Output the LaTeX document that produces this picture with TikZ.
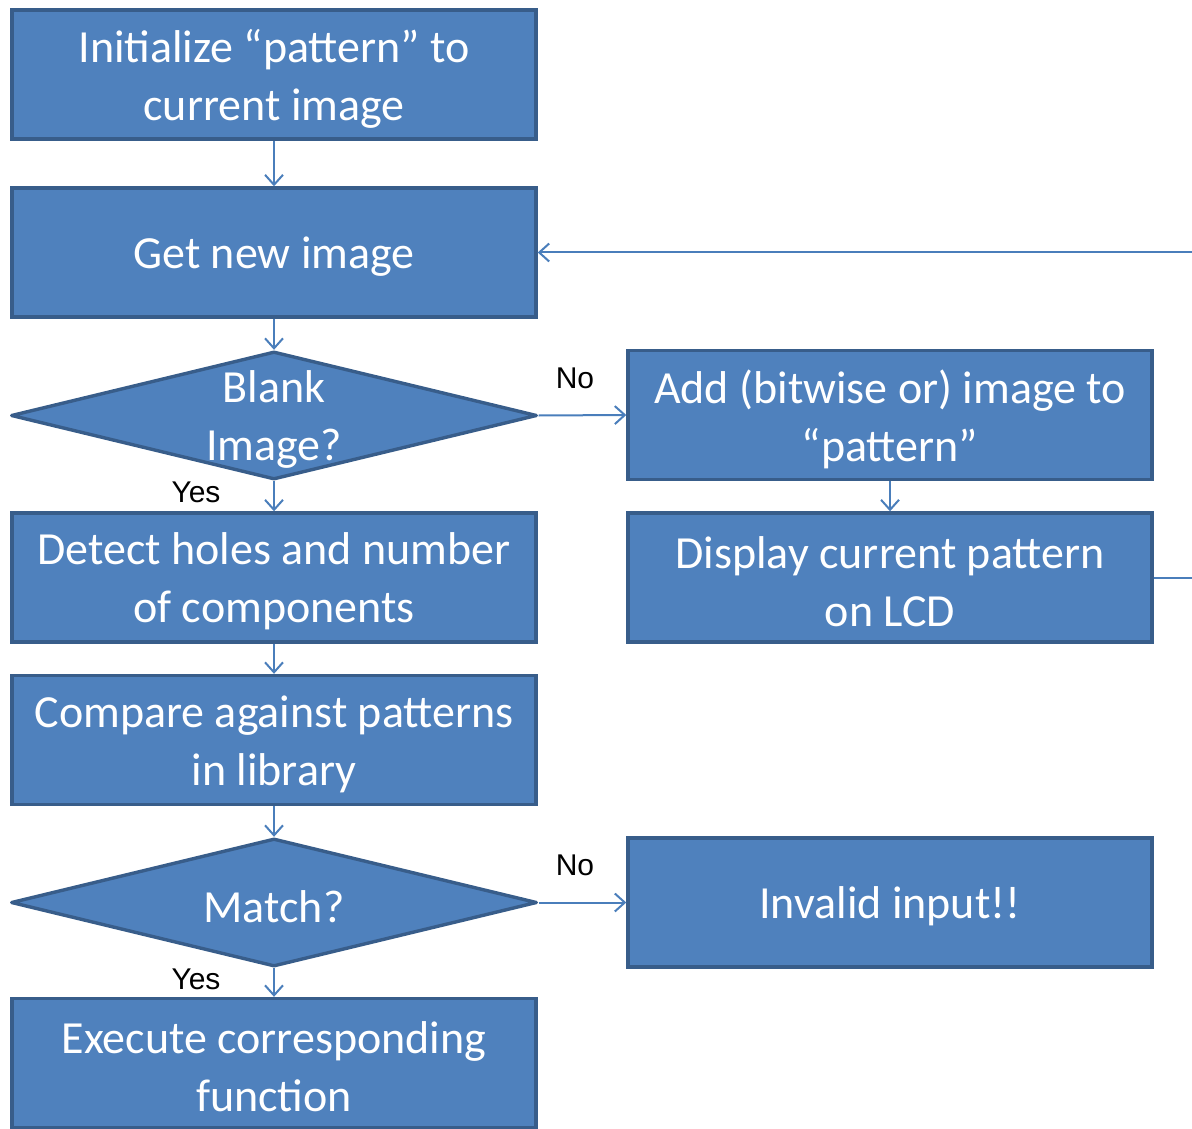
\documentclass[tikz,border=0pt]{standalone}
\usepackage{fontspec}
\setmainfont{Carlito}
\newfontfamily\labelfont{Liberation Sans}
\usetikzlibrary{shapes.geometric,arrows.meta}
\definecolor{boxfill}{HTML}{4F81BD}
\definecolor{boxline}{HTML}{385D8A}
\definecolor{linkblue}{HTML}{4A7EBB}
\begin{document}
\begin{tikzpicture}[x=0.5pt,y=-0.5pt,
  boxtext/.style={text=white, align=center, inner sep=0pt,
    font=\fontsize{23}{29}\selectfont, yshift=-2pt},
  procbox/.style={draw=boxline, fill=boxfill, line width=1.7pt,
    minimum width=262pt, minimum height=64.5pt, inner sep=0pt,
    label={[boxtext]center:{#1}}},
  decbox/.style={diamond, draw=boxline, fill=boxfill, line width=1.7pt,
    line join=round, minimum width=263pt, minimum height=64pt, inner sep=0pt,
    label={[boxtext]center:{#1}}},
  link/.style={draw=linkblue, line width=1pt,
    -{Straight Barb[length=5pt,width=9pt,line width=1pt]}},
  plainlink/.style={draw=linkblue, line width=1pt},
  branch/.style={font=\labelfont\fontsize{15}{18}\selectfont, text=black, inner sep=0pt}]
  \useasboundingbox (0,0) rectangle (1192,1128);

  % main column
  \node[procbox={Initialize “pattern” to\\current image}] (init) at (274,74.5) {};
  \node[procbox={Get new image}] (get) at (274,252.5) {};
  \node[decbox={Blank\\Image?}] (blank) at (274,415.5) {};
  \node[procbox={Detect holes and number\\of components}] (detect) at (274,577.5) {};
  \node[procbox={Compare against patterns\\in library}] (compare) at (274,740) {};
  \node[decbox={Match?}] (match) at (274,902.5) {};
  \node[procbox={Execute corresponding\\function}] (exec) at (274,1063) {};

  % right column
  \node[procbox={Add (bitwise or) image to\\“pattern”}] (add) at (890,415) {};
  \node[procbox={Display current pattern\\on LCD}] (disp) at (890,577.5) {};
  \node[procbox={Invalid input!!}] (invalid) at (890,902.5) {};

  % loop-back ends
  \coordinate (loopin) at (1192,252.5);
  \coordinate (loopout) at (1192,577.5);

  % connectors
  \draw[link] (init) -- (get);
  \draw[link] (get) -- (blank);
  \draw[link] (blank.east) -- (add.west);
  \draw[link] (blank.south) -- (detect.north);
  \draw[link] (add) -- (disp);
  \draw[plainlink] (disp.east) -- (loopout);
  \draw[link] (loopin) -- (get.east);
  \draw[link] (detect) -- (compare);
  \draw[link] (compare) -- (match.north);
  \draw[link] (match.east) -- (invalid.west);
  \draw[link] (match.south) -- (exec.north);

  % branch labels
  \node[branch] (no1) at (575,378) {No};
  \node[branch] (yes1) at (196,492) {Yes};
  \node[branch] (no2) at (575,865) {No};
  \node[branch] (yes2) at (196,979) {Yes};
\end{tikzpicture}
\end{document}
